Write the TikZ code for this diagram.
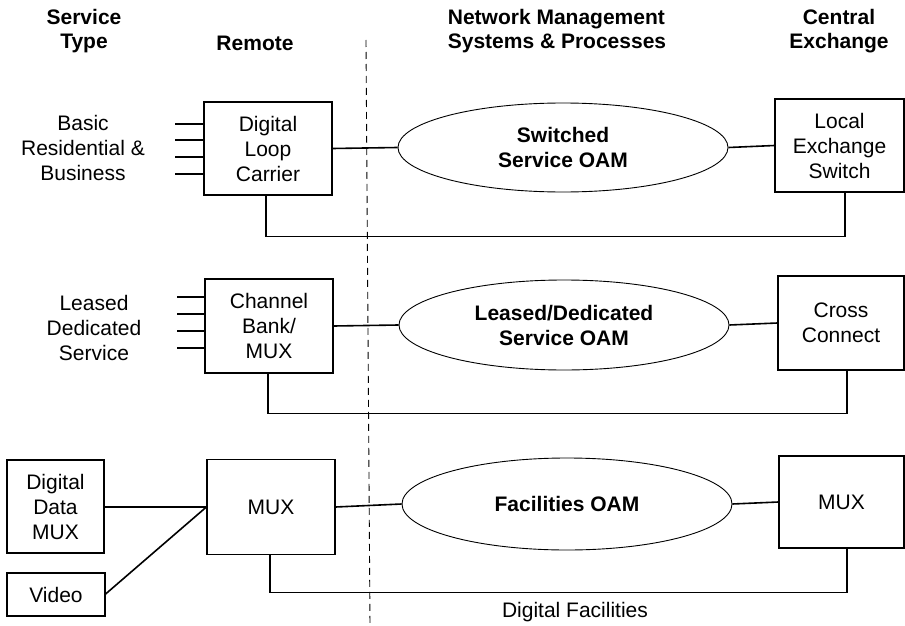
\documentclass[tikz,border=0pt]{standalone}
\usepackage{fontspec}
\setmainfont{Liberation Sans}
\usetikzlibrary{shapes.geometric}
\begin{document}
\begin{tikzpicture}[x=1pt,y=-1pt,
  txt/.style={font=\fontsize{21}{25}\selectfont, align=center, inner sep=0pt},
  hdr/.style={font=\fontsize{21}{24}\selectfont\bfseries, align=center, inner sep=0pt},
  box/.style={draw, line width=1.2pt, txt},
  oam/.style={draw, ellipse, line width=0.9pt, minimum width=330pt, inner sep=0pt,
    font=\fontsize{21}{25}\selectfont\bfseries, align=center},
  conn/.style={line width=1.6pt},
  stub/.style={line width=1.6pt}]
\useasboundingbox (0,0) rectangle (905,626);

% headers
\node[hdr] (hST) at (84,31) {Service\\Type};
\node[hdr] (hRem) at (255,43) {Remote};
\node[hdr, align=left] (hNMS) at (557,31) {Network Management\\Systems \& Processes};
\node[hdr] (hCE) at (839,31) {Central\\Exchange};

% dashed divider
\coordinate (dtop) at (366,40);
\coordinate (dbot) at (370,626);
\draw[dashed, line width=0.9pt, dash pattern=on 7pt off 5pt] (dtop) -- (dbot);

% row 1
\node[box, minimum width=128pt, minimum height=93pt] (dlc) at (268,148.5) {Digital\\Loop\\Carrier};
\node[txt] (l1) at (83,148) {Basic\\Residential \&\\Business};
\node[oam, minimum height=89pt] (ell1) at (563,147.5) {Switched\\Service OAM};
\node[box, minimum width=129pt, minimum height=93pt] (les) at (839.5,145.5) {Local\\Exchange\\Switch};
\foreach \yy in {-25.5,-8.5,8.5,24.5}
  \draw[stub] ([yshift=\yy]dlc.west) -- ++(-28,0);
\draw[conn] (dlc.east) -- (ell1.west);
\draw[conn] (ell1.east) -- (les.west);
\draw[conn] ([xshift=-2]dlc.south) -- ++(0,41) -| ([xshift=5.5]les.south);

% row 2
\node[box, minimum width=128pt, minimum height=94pt] (cb) at (269,326) {Channel\\Bank/\\MUX};
\node[txt] (l2) at (94,328) {Leased\\Dedicated\\Service};
\node[oam, minimum height=90pt] (ell2) at (564,325) {Leased/Dedicated\\Service OAM};
\node[box, minimum width=126pt, minimum height=94pt] (cc) at (841,323) {Cross\\Connect};
\foreach \yy in {-22,-5,12,29}
  \draw[stub] ([yshift=\yy]cb.west) -- ++(-27,0);
\draw[conn] (cb.east) -- (ell2.west);
\draw[conn] (ell2.east) -- (cc.west);
\draw[conn] ([xshift=-1]cb.south) -- ++(0,40) -| ([xshift=6]cc.south);

% row 3
\node[box, minimum width=97pt, minimum height=93pt] (ddm) at (55.5,506.5) {Digital\\Data\\MUX};
\node[box, minimum width=98pt, minimum height=43pt] (vid) at (56,594.5) {Video};
\node[box, minimum width=128pt, minimum height=95pt] (mux1) at (271,507) {MUX};
\node[oam, minimum height=92pt] (ell3) at (567,504) {Facilities OAM};
\node[box, minimum width=125pt, minimum height=92pt] (mux2) at (841.5,502) {MUX};
\node[txt] (df) at (575,612) {Digital Facilities};
\draw[conn] (ddm.east |- mux1.west) -- (mux1.west);
\draw[conn] ([yshift=0.5]vid.east) -- (mux1.west);
\draw[conn] (mux1.east) -- (ell3.west);
\draw[conn] (ell3.east) -- (mux2.west);
\draw[conn] ([xshift=-1]mux1.south) -- ++(0,37.5) -| ([xshift=5.5]mux2.south);
\end{tikzpicture}
\end{document}
